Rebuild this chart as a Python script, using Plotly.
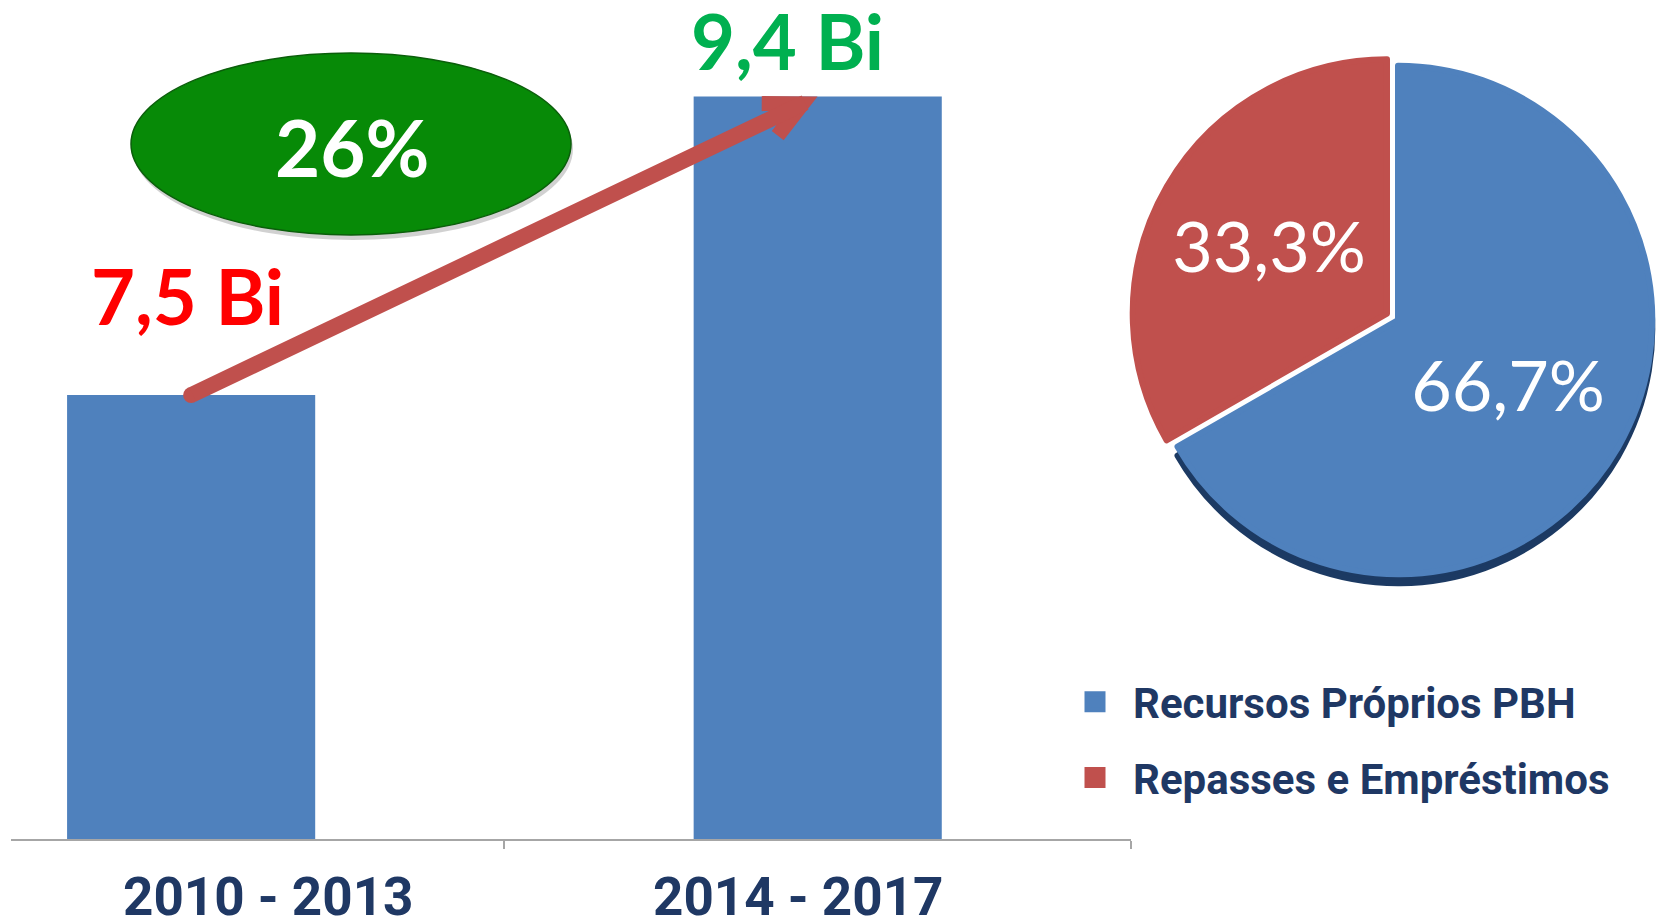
import plotly.graph_objects as go

# ---- data ----
periods = ["2010 - 2013", "2014 - 2017"]
totals_bi = [7.5, 9.4]
growth_label = "26%"
value_colors = ["#FF0000", "#00B050"]

pie_labels = ["Recursos Próprios PBH", "Repasses e Empréstimos"]
pie_values = [66.7, 33.3]
pie_colors = ["#4F81BD", "#C0504D"]

W, H = 1665, 922
MB = 83
PH = H - MB  # plot height in px

def fmt_bi(v):
    return f"{v:.1f}".replace(".", ",") + " Bi"

def fmt_pct(v):
    return f"{v:.1f}".replace(".", ",") + "%"

NARROW = "Roboto, Liberation Sans, sans-serif"
HUMAN = "Lato, Open Sans, sans-serif"
NAVY = "#1F3864"
ARROW = "#C0504D"

fig = go.Figure()

x_idx = list(range(len(periods)))
fig.add_trace(go.Bar(
    x=x_idx, y=totals_bi, width=0.396,
    marker=dict(color="#4F81BD", line=dict(width=0)),
    showlegend=False, hoverinfo="skip",
))

# pie shadow (3D rim)
PULL = [0, 0.05]
pie_dom_x = [(1398 - 267) / W, 1.0]
pie_cy = (PH - 320) / PH
pie_hh = 267 / PH
shadow_dy = 9 / PH
fig.add_trace(go.Pie(
    labels=pie_labels, values=pie_values, sort=False, direction="clockwise",
    rotation=0, pull=PULL,
    marker=dict(colors=["#1C3A63", "rgba(0,0,0,0)"],
                line=dict(color=["#1C3A63", "rgba(0,0,0,0)"], width=6)),
    domain=dict(x=pie_dom_x, y=[pie_cy - pie_hh - shadow_dy, pie_cy + pie_hh - shadow_dy]),
    textinfo="none", hoverinfo="skip", showlegend=False,
))
fig.add_trace(go.Pie(
    labels=pie_labels, values=pie_values, sort=False, direction="clockwise",
    rotation=0, pull=PULL,
    marker=dict(colors=pie_colors, line=dict(color=pie_colors, width=6)),
    domain=dict(x=pie_dom_x, y=[pie_cy - pie_hh, pie_cy + pie_hh]),
    text=[fmt_pct(v) for v in pie_values], textinfo="text",
    textposition="inside", insidetextorientation="horizontal",
    textfont=dict(family=HUMAN, size=70, color="white"),
    hoverinfo="skip", showlegend=False,
))

# legend entries for the pie categories
for lab, col in zip(pie_labels, pie_colors):
    fig.add_trace(go.Scatter(
        x=[None], y=[None], mode="markers", name=lab, legendgroup=lab,
        marker=dict(symbol="square", size=16, color=col, line=dict(color=col, width=5)),
        hoverinfo="skip", showlegend=True,
    ))

shapes = []
# ellipse shadow and ellipse
ex0, ex1 = 131 / W, 571 / W
ey0, ey1 = (PH - 235) / PH, (PH - 53) / PH
shapes.append(dict(type="circle", xref="paper", yref="paper",
                   x0=ex0 + 2 / W, x1=ex1 + 2 / W, y0=ey0 - 5 / PH, y1=ey1 - 5 / PH,
                   fillcolor="rgba(0,0,0,0.18)", line=dict(width=0), layer="below"))
shapes.append(dict(type="circle", xref="paper", yref="paper",
                   x0=ex0, x1=ex1, y0=ey0, y1=ey1,
                   fillcolor="#078A07", line=dict(color="#0B5E0B", width=1.5), layer="above"))
# arrow: round start cap and chevron head, anchored to the bar tops
shapes.append(dict(type="circle", xref="x", yref="y", xsizemode="pixel", ysizemode="pixel",
                   xanchor=0, yanchor=totals_bi[0], x0=-8, x1=8, y0=-8, y1=8,
                   fillcolor=ARROW, line=dict(width=0), layer="above"))
shapes.append(dict(type="path", xref="x", yref="y", xsizemode="pixel", ysizemode="pixel",
                   xanchor=1, yanchor=totals_bi[1],
                   path="M-56,-7 L-15.4,-7.3 L-40,-39",
                   fillcolor="rgba(0,0,0,0)", line=dict(color=ARROW, width=15),
                   layer="above"))

annotations = []
yshifts = [100, 56]
xshifts = [-4, -30]
for i, v in enumerate(totals_bi):
    annotations.append(dict(
        x=i, y=v, xref="x", yref="y", text=fmt_bi(v), showarrow=False,
        xanchor="center", yanchor="middle", xshift=xshifts[i], yshift=yshifts[i],
        font=dict(family=HUMAN, size=76, color=value_colors[i], weight="bold"),
    ))
annotations.append(dict(
    x=352 / W, y=(PH - 147) / PH, xref="paper", yref="paper", text=growth_label,
    showarrow=False, xanchor="center", yanchor="middle",
    font=dict(family=HUMAN, size=78, color="white", weight="bold"),
))
# growth arrow shaft from first bar top to second bar top
annotations.append(dict(
    x=1, y=totals_bi[1], xref="x", yref="y",
    ax=0, ay=totals_bi[0], axref="x", ayref="y",
    text="", showarrow=True, arrowhead=0, arrowwidth=16, standoff=14,
    arrowcolor=ARROW,
))
# category labels under the axis (offset from the bar centres as in the original)
cat_xshift = [77, -19]
for i, lab in enumerate(periods):
    annotations.append(dict(
        x=i, y=0, xref="x", yref="paper", text=lab, showarrow=False,
        xanchor="center", yanchor="middle", xshift=cat_xshift[i], yshift=-58,
        font=dict(family=NARROW, size=53, color=NAVY, weight="bold"),
    ))

ymin = 4.674
ymax = 10.015

fig.update_layout(
    width=W, height=H,
    margin=dict(l=0, r=0, t=0, b=MB, autoexpand=False),
    paper_bgcolor="white", plot_bgcolor="white",
    xaxis=dict(
        domain=[11 / W, 1131 / W], range=[-0.2875, 1.5],
        tickvals=x_idx, ticktext=["", ""], ticks="", showticklabels=False,
        showline=True, linecolor="#A6A6A6", linewidth=2,
        showgrid=False, zeroline=False, automargin=False, fixedrange=True,
        minor=dict(tickvals=[0.5, 1.5], ticks="outside", ticklen=8,
                   tickcolor="#A6A6A6", tickwidth=1.5),
    ),
    yaxis=dict(range=[ymin, ymax], visible=False, fixedrange=True),
    legend=dict(
        x=1057 / W, xanchor="left", y=(PH - 668) / PH, yanchor="top",
        font=dict(family=NARROW, size=42, color=NAVY, weight="bold"),
        bgcolor="rgba(0,0,0,0)", itemwidth=66, tracegroupgap=18,
    ),
    shapes=shapes,
    annotations=annotations,
    showlegend=True,
)

fig.write_html("out.html", config={"displayModeBar": False},
               post_script="document.body.style.margin='0';")
